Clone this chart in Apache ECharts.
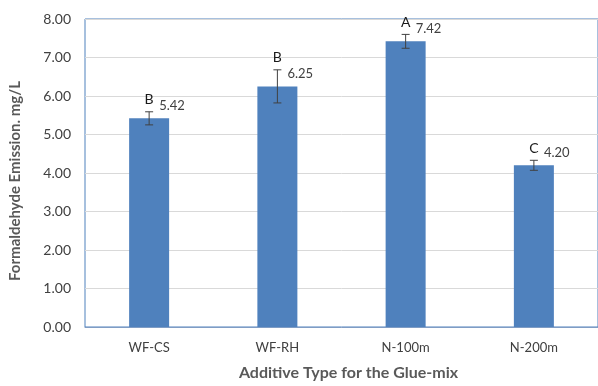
<!DOCTYPE html>
<html>
<head>
<meta charset="utf-8">
<title>Formaldehyde Emission by Additive Type</title>
<script src="https://cdn.jsdelivr.net/npm/echarts@6/dist/echarts.min.js"></script>
<style>
  html, body { margin: 0; padding: 0; background: #fff; }
  #chart { width: 598px; height: 386px; }
</style>
</head>
<body>
<div id="chart"></div>
<script>
// Additive types and measured formaldehyde emission (mg/L)
const categories = ['WF-CS', 'WF-RH', 'N-100m', 'N-200m'];
const emission = [5.42, 6.25, 7.42, 4.20];
// Standard deviation shown as error bars
const stdDev = [0.17, 0.43, 0.18, 0.13];
// Statistical grouping letters
const groupLetters = ['B', 'B', 'A', 'C'];
const yTicks = [0, 1, 2, 3, 4, 5, 6, 7, 8];

const FONT = 'Lato, "Open Sans", sans-serif';
const BAR_COLOR = '#4f81bd';

const errorData = categories.map((c, i) => [i, emission[i] - stdDev[i], emission[i] + stdDev[i]]);

function renderErrorBar(params, api) {
  const x = api.value(0);
  const lo = api.coord([x, api.value(1)]);
  const hi = api.coord([x, api.value(2)]);
  const cap = 4;
  const style = { stroke: '#404040', lineWidth: 1 };
  return {
    type: 'group',
    children: [
      { type: 'line', shape: { x1: hi[0], y1: hi[1], x2: lo[0], y2: lo[1] }, style },
      { type: 'line', shape: { x1: hi[0] - cap, y1: hi[1], x2: hi[0] + cap, y2: hi[1] }, style },
      { type: 'line', shape: { x1: lo[0] - cap, y1: lo[1], x2: lo[0] + cap, y2: lo[1] }, style },
      {
        type: 'text',
        style: {
          text: groupLetters[params.dataIndex],
          x: hi[0], y: hi[1] - 5,
          align: 'center', verticalAlign: 'bottom',
          fill: '#1a1a1a', font: '14px ' + FONT
        }
      }
    ]
  };
}

const chart = echarts.init(document.getElementById('chart'), null, { renderer: 'canvas' });
chart.setOption({
  animation: false,
  backgroundColor: '#ffffff',
  grid: {
    left: 82, top: 19, width: 520, height: 318,
    show: true, borderColor: BAR_COLOR, borderWidth: 1, backgroundColor: 'transparent'
  },
  xAxis: {
    type: 'category',
    data: categories,
    name: 'Additive Type for the Glue-mix',
    nameLocation: 'middle',
    nameGap: 38,
    nameTextStyle: {
      fontFamily: FONT, fontSize: 16, fontWeight: 'bold', color: '#595959',
      padding: [0, 0, 0, 14]
    },
    axisLine: { show: true, lineStyle: { color: '#7f9cc4', width: 1 } },
    axisTick: { show: false },
    axisLabel: { fontFamily: FONT, fontSize: 13, color: '#404040', margin: 14 }
  },
  yAxis: {
    type: 'value',
    min: yTicks[0],
    max: yTicks[yTicks.length - 1],
    interval: 1,
    name: 'Formaldehyde Emission. mg/L',
    nameLocation: 'middle',
    nameGap: 62,
    nameTextStyle: {
      fontFamily: FONT, fontSize: 15, fontWeight: 'bold', color: '#595959',
      padding: [0, 16, 0, 0]
    },
    axisLine: { show: false },
    axisTick: { show: false },
    axisLabel: {
      fontFamily: FONT, fontSize: 14, color: '#404040', margin: 14,
      formatter: v => v.toFixed(2)
    },
    splitLine: { show: true, lineStyle: { color: '#d9d9d9', width: 1 } }
  },
  series: [
    {
      type: 'bar',
      data: emission,
      barWidth: 40,
      itemStyle: { color: BAR_COLOR },
      label: {
        show: true,
        position: 'top',
        align: 'left',
        offset: [10, -1],
        fontFamily: FONT,
        fontSize: 13,
        color: '#404040',
        formatter: p => p.value.toFixed(2)
      },
      z: 2
    },
    {
      type: 'custom',
      data: errorData,
      renderItem: renderErrorBar,
      encode: { x: 0, y: [1, 2] },
      z: 3
    }
  ]
});
</script>
</body>
</html>
